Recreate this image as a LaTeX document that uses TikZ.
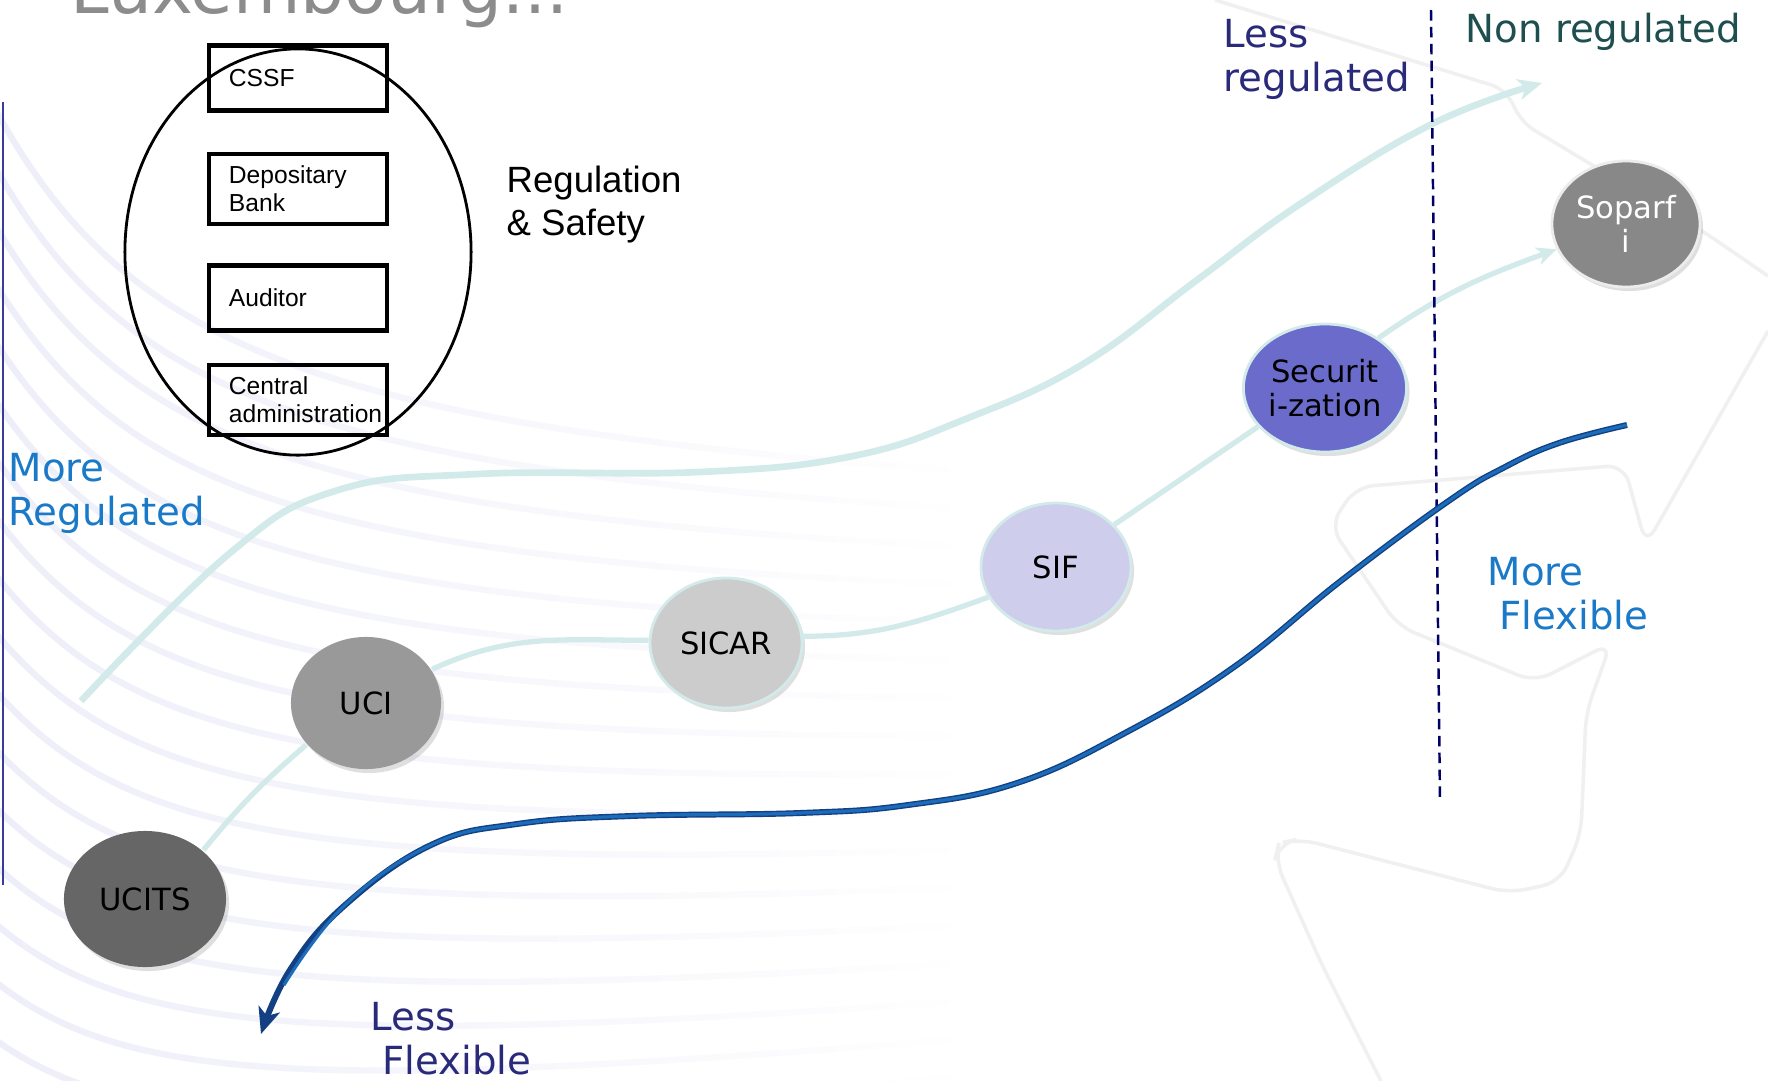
\documentclass[tikz,border=0pt]{standalone}
\usepackage{fontspec}
\setmainfont{DejaVu Sans}
\newfontfamily\arialfont{Liberation Sans}
\usetikzlibrary{arrows.meta,shapes.geometric,shadows,fadings}

\definecolor{flowteal}{RGB}{211,234,234}
\definecolor{ucitsgray}{RGB}{102,102,102}
\definecolor{ucigray}{RGB}{153,153,153}
\definecolor{sicargray}{RGB}{204,204,204}
\definecolor{siflilac}{RGB}{206,206,236}
\definecolor{secviolet}{RGB}{107,107,204}
\definecolor{soparfigray}{RGB}{136,136,136}
\definecolor{flexblue}{RGB}{28,108,186}
\definecolor{flexedge}{RGB}{18,64,130}
\definecolor{navytext}{RGB}{42,42,122}
\definecolor{slatetext}{RGB}{30,78,78}
\definecolor{regblue}{RGB}{26,122,200}
\definecolor{dividernavy}{RGB}{0,0,102}
\definecolor{edgenavy}{RGB}{58,58,154}
\definecolor{titlegray}{RGB}{140,140,140}
\definecolor{wavetint}{RGB}{238,238,250}

\tikzfading[name=wavefade, left color=transparent!0, right color=transparent!100]

\tikzset{
	fund/.style={ellipse, inner sep=0pt, align=center, line width=0.8pt,
		font=\fontsize{8.7}{9.7}\selectfont,
		drop shadow={opacity=0.25, shadow xshift=0.03cm, shadow yshift=-0.04cm}},
	actor/.style={draw, line width=1.3pt, minimum width=1.78cm, minimum height=0.65cm,
		text width=1.38cm, inner xsep=0.2cm, align=left,
		font=\arialfont\fontsize{7}{8}\selectfont},
	sidelabel/.style={anchor=north west, inner sep=0pt, align=left,
		font=\fontsize{11}{12.3}\selectfont},
	fundlink/.style={flowteal, line width=1.5pt},
	bgwave/.style={wavetint, line width=1.8pt, path fading=wavefade},
	bgghost/.style={gray!12, line width=1pt, rounded corners=5pt},
}

\begin{document}
\begin{tikzpicture}[x=0.01cm, y=0.01cm]
	\fill[white] (0,-1081) rectangle (1768,0);
	\useasboundingbox (0,-1081) rectangle (1768,0);

	% background
	\foreach \k in {0,...,16}
		\draw[bgwave] (-30,{-60-\k*60}) .. controls (100,{-330-\k*50}) and (260,{-420-\k*45}) .. (950,{-470-\k*38});
	\draw[bgghost] (1215,0) -- (1508,-90) -- (1519,-121) -- (1707,-234) -- (1768,-276);
	\draw[bgghost] (1768,-331) -- (1646,-545) -- (1624,-465) -- (1356,-487) -- (1330,-526) -- (1398,-626)
		-- (1535,-682) -- (1611,-643) -- (1586,-713) -- (1581,-834) -- (1560,-882) -- (1509,-893)
		-- (1300,-839) -- (1279,-843) -- (1275,-860) -- (1322,-965) -- (1381,-1081);
	\draw[edgenavy, line width=0.85pt] (3,-102) -- (3,-885);

	\node[anchor=base west, inner sep=0pt, text=titlegray, font=\fontsize{19.7}{22}\selectfont] (title) at (70,-13) {Luxembourg...};

	% regulation side
	\draw[flowteal, line width=1.9pt, -{Stealth[length=0.24cm, width=0.21cm, inset=0.07cm]}]
		plot[smooth, tension=0.7] coordinates {(81,-701) (230,-553) (335,-491) (478,-474) (700,-472) (853,-456)
		(968,-418) (1083,-364) (1197,-280) (1300,-204) (1432,-124) (1542,-83)};

	\node[fund, fill=ucitsgray, minimum width=1.62cm, minimum height=1.36cm] (ucits) at (145,-899) {UCITS};
	\node[fund, fill=ucigray, minimum width=1.5cm, minimum height=1.32cm] (uci) at (366,-703) {UCI};
	\node[fund, fill=sicargray, draw=flowteal, minimum width=1.52cm, minimum height=1.3cm] (sicar) at (726,-643) {SICAR};
	\node[fund, fill=siflilac, draw=flowteal, minimum width=1.5cm, minimum height=1.28cm] (sif) at (1056,-567) {SIF};
	\node[fund, fill=secviolet, draw=flowteal, minimum width=1.63cm, minimum height=1.28cm] (secur) at (1325,-388) {Securit\\i-zation};
	\node[fund, fill=soparfigray, draw=white!85!gray, text=white, minimum width=1.48cm, minimum height=1.26cm] (soparfi) at (1626,-224) {Soparf\\i};

	\draw[fundlink] (ucits.40) to[bend left=5] (uci.215);
	\draw[fundlink] (uci.27) to[out=25, in=180] (sicar.178);
	\draw[fundlink] (sicar.5) to[out=0, in=200] (sif.204);
	\draw[fundlink] (sif.36) -- (secur.210);
	\draw[fundlink, -{Stealth[length=0.2cm, width=0.18cm, inset=0.06cm]}] (secur.43) to[out=35, in=200] (soparfi.200);

	\coordinate (divtop) at (1431,-10);
	\coordinate (divbot) at (1440,-800);
	\draw[dividernavy, line width=0.7pt, dash pattern=on 3pt off 1.8pt] (divtop) -- (divbot);

	% flexibility side
	\draw[flexedge, line width=1.7pt, -{Stealth[length=0.26cm, width=0.22cm, inset=0.07cm]}]
		plot[smooth, tension=0.7] coordinates {(1627,-425) (1559,-443) (1505,-467) (1450,-500) (1342,-580) (1234,-667)
		(1125,-733) (1017,-783) (908,-805) (800,-813) (631,-816) (517,-824) (431,-845) (344,-906) (290,-970) (261,-1034)};
	\draw[flexblue, line width=0.9pt]
		plot[smooth, tension=0.7] coordinates {(1627,-425) (1559,-443) (1505,-467) (1450,-500) (1342,-580) (1234,-667)
		(1125,-733) (1017,-783) (908,-805) (800,-813) (631,-816) (517,-824) (431,-845) (344,-906) (284,-985)};

	% actors
	\node[draw, ellipse, line width=0.8pt, minimum width=3.46cm, minimum height=4.06cm, inner sep=0pt] (ring) at (298,-252) {};
	\node[actor] (cssf) at (298,-78) {CSSF};
	\node[actor] (depo) at (298,-189) {Depositary\\Bank};
	\node[actor] (audit) at (298,-298) {Auditor};
	\node[actor] (central) at (298,-400) {Central\\administration};
	\node[sidelabel, font=\arialfont\fontsize{10.4}{12.2}\selectfont] (safety) at (506,-165) {Regulation\\\& Safety};

	\node[sidelabel, text=navytext] (lessreg) at (1223,-19) {Less\\regulated};
	\node[sidelabel, text=slatetext] (nonreg) at (1465,-12) {Non regulated};
	\node[sidelabel, text=regblue] (morereg) at (8,-453) {More\\Regulated};
	\node[sidelabel, text=regblue] (moreflex) at (1487,-557) {More\\\hspace*{.3em}Flexible};
	\node[sidelabel, text=navytext] (lessflex) at (370,-1002) {Less\\\hspace*{.3em}Flexible};
\end{tikzpicture}
\end{document}
